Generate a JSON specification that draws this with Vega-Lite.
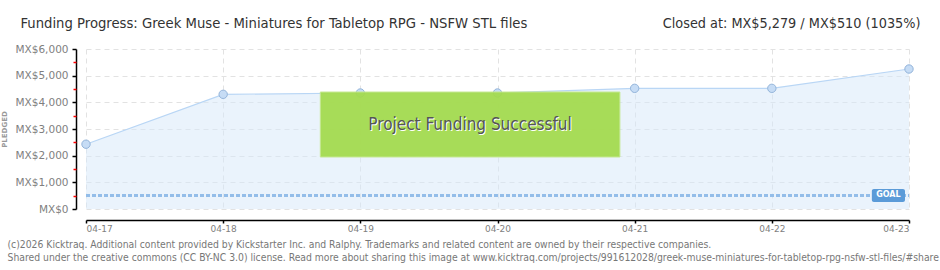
{
  "$schema": "https://vega.github.io/schema/vega-lite/v6.json",
  "width": 823,
  "height": 160,
  "autosize": {"type": "none"},
  "padding": {"left": 86, "top": 49, "right": 31, "bottom": 61},
  "background": "#ffffff",
  "datasets": {
    "pledges": [
      {"date": "2026-04-17T00:00:00Z", "pledged": 2430},
      {"date": "2026-04-18T00:00:00Z", "pledged": 4300},
      {"date": "2026-04-19T00:00:00Z", "pledged": 4350},
      {"date": "2026-04-20T00:00:00Z", "pledged": 4350},
      {"date": "2026-04-21T00:00:00Z", "pledged": 4525},
      {"date": "2026-04-22T00:00:00Z", "pledged": 4525},
      {"date": "2026-04-23T00:00:00Z", "pledged": 5250}
    ],
    "banner": [
      {"start": "2026-04-18T17:00:00Z", "end": "2026-04-20T21:25:00Z", "mid": "2026-04-19T19:12:00Z", "low": 1950, "high": 4387, "center": 3140, "label": "Project Funding Successful"}
    ],
    "goal": [
      {"start": "2026-04-22T17:30:00Z", "end": "2026-04-22T23:18:00Z", "mid": "2026-04-22T20:24:00Z", "goal": 510, "low": 262, "high": 750, "label": "GOAL"}
    ]
  },
  "layer": [
    {
      "data": {"name": "pledges"},
      "mark": {"type": "area", "color": "#d6e8fa", "opacity": 0.5, "line": {"color": "#b9d6f5", "strokeWidth": 1.2}},
      "encoding": {
        "x": {
          "field": "date", "type": "temporal",
          "scale": {"type": "utc", "domain": [{"year": 2026, "month": 4, "date": 17, "utc": true}, {"year": 2026, "month": 4, "date": 23, "utc": true}]},
          "axis": {
            "orient": "bottom", "offset": 11,
            "labelExpr": "utcFormat(datum.value, '%m-%d')",
            "values": [{"year": 2026, "month": 4, "date": 17, "utc": true}, {"year": 2026, "month": 4, "date": 18, "utc": true}, {"year": 2026, "month": 4, "date": 19, "utc": true}, {"year": 2026, "month": 4, "date": 20, "utc": true}, {"year": 2026, "month": 4, "date": 21, "utc": true}, {"year": 2026, "month": 4, "date": 22, "utc": true}, {"year": 2026, "month": 4, "date": 23, "utc": true}],
            "grid": true, "gridColor": "#e2e2e2", "gridDash": [5, 4], "gridWidth": 1,
            "domainColor": "#000000", "domainWidth": 1.5, "tickColor": "#000000", "tickSize": 3, "tickWidth": 1.5,
            "labelColor": "#7f7f7f", "labelFont": "DejaVu Sans", "labelFontSize": 9, "labelPadding": 1,
            "title": ["(c)2026 Kicktraq. Additional content provided by Kickstarter Inc. and Ralphy. Trademarks and related content are owned by their respective companies.", "Shared under the creative commons (CC BY-NC 3.0) license. Read more about sharing this image at www.kicktraq.com/projects/991612028/greek-muse-miniatures-for-tabletop-rpg-nsfw-stl-files/#share"],
            "titleX": -79, "titleY": 27, "titleAlign": "left", "titleBaseline": "alphabetic",
            "titleFont": "DejaVu Sans Condensed, DejaVu Sans", "titleFontSize": 10.3, "titleFontWeight": "normal", "titleColor": "#777777", "titleLineHeight": 13
          }
        },
        "y": {
          "field": "pledged", "type": "quantitative",
          "scale": {"domain": [0, 6000], "nice": false},
          "axis": {
            "orient": "left", "offset": 10, "values": [0, 1000, 2000, 3000, 4000, 5000, 6000],
            "labelExpr": "'MX$' + format(datum.value, ',')",
            "grid": true, "gridColor": "#e2e2e2", "gridDash": [5, 4], "gridWidth": 1,
            "domainColor": "#000000", "domainWidth": 1.5, "tickColor": "#000000", "tickSize": 4, "tickWidth": 1.5,
            "labelColor": "#7f7f7f", "labelFont": "DejaVu Sans", "labelFontSize": 10.5, "labelPadding": 4,
            "title": "PLEDGED", "titleX": -72, "titleY": 80, "titleAngle": -90, "titleAlign": "center", "titleBaseline": "middle",
            "titleFont": "DejaVu Sans", "titleFontSize": 7, "titleFontWeight": "bold", "titleColor": "#999999"
          }
        }
      }
    },
    {
      "data": {"name": "goal"},
      "mark": {"type": "rule", "color": "#93bde9", "strokeWidth": 3, "strokeDash": [4, 2]},
      "encoding": {
        "y": {
          "field": "goal", "type": "quantitative",
          "axis": {
            "orient": "left", "offset": 10, "values": [500, 1500, 2500, 3500, 4500, 5500],
            "labels": false, "grid": false, "domain": false, "tickColor": "#ff0000", "tickSize": 3, "tickWidth": 1.5, "title": null
          }
        },
        "x": {
          "datum": {"year": 2026, "month": 4, "date": 17, "utc": true}, "type": "temporal",
          "axis": {
            "orient": "top", "labels": false, "ticks": false, "domain": false, "grid": false,
            "title": "Funding Progress: Greek Muse - Miniatures for Tabletop RPG - NSFW STL files",
            "titleX": -66, "titleY": -22, "titleAlign": "left", "titleBaseline": "alphabetic",
            "titleFont": "DejaVu Sans Condensed, DejaVu Sans", "titleFontSize": 14.7, "titleFontWeight": "normal", "titleColor": "#333333"
          }
        },
        "x2": {"datum": {"year": 2026, "month": 4, "date": 23, "utc": true}}
      }
    },
    {
      "data": {"name": "pledges"},
      "mark": {"type": "point", "shape": "circle", "filled": true, "size": 70, "fill": "#c6dcf5", "stroke": "#93b4da", "strokeWidth": 1, "opacity": 1},
      "encoding": {
        "x": {
          "field": "date", "type": "temporal",
          "axis": {
            "orient": "top", "labels": false, "ticks": false, "domain": false, "grid": false,
            "title": "Closed at:  MX$5,279 /  MX$510 (1035%)",
            "titleX": 834, "titleY": -22, "titleAlign": "right", "titleBaseline": "alphabetic",
            "titleFont": "DejaVu Sans Condensed, DejaVu Sans", "titleFontSize": 14.3, "titleFontWeight": "normal", "titleColor": "#333333"
          }
        },
        "y": {"field": "pledged", "type": "quantitative", "axis": null}
      }
    },
    {
      "data": {"name": "banner"},
      "mark": {"type": "rect", "color": "#a3db4c", "opacity": 0.93, "stroke": "#c3e88a", "strokeWidth": 1},
      "encoding": {
        "x": {"field": "start", "type": "temporal", "axis": null},
        "x2": {"field": "end"},
        "y": {"field": "low", "type": "quantitative", "axis": null},
        "y2": {"field": "high"}
      }
    },
    {
      "data": {"name": "banner"},
      "mark": {"type": "text", "color": "#ffffff", "font": "DejaVu Sans Condensed, DejaVu Sans", "fontSize": 17, "dx": 1, "dy": 1, "align": "center", "baseline": "middle"},
      "encoding": {
        "x": {"field": "mid", "type": "temporal", "axis": null},
        "y": {"field": "center", "type": "quantitative", "axis": null},
        "text": {"field": "label"}
      }
    },
    {
      "data": {"name": "banner"},
      "mark": {"type": "text", "color": "#555555", "font": "DejaVu Sans Condensed, DejaVu Sans", "fontSize": 17, "align": "center", "baseline": "middle"},
      "encoding": {
        "x": {"field": "mid", "type": "temporal", "axis": null},
        "y": {"field": "center", "type": "quantitative", "axis": null},
        "text": {"field": "label"}
      }
    },
    {
      "data": {"name": "goal"},
      "mark": {"type": "rect", "color": "#5b9bd8", "cornerRadius": 2},
      "encoding": {
        "x": {"field": "start", "type": "temporal", "axis": null},
        "x2": {"field": "end"},
        "y": {"field": "low", "type": "quantitative", "axis": null},
        "y2": {"field": "high"}
      }
    },
    {
      "data": {"name": "goal"},
      "mark": {"type": "text", "color": "#ffffff", "font": "DejaVu Sans", "fontSize": 8, "fontWeight": "bold", "align": "center", "baseline": "middle"},
      "encoding": {
        "x": {"field": "mid", "type": "temporal", "axis": null},
        "y": {"field": "goal", "type": "quantitative", "axis": null},
        "text": {"field": "label"}
      }
    }
  ],
  "resolve": {"axis": {"x": "independent", "y": "independent"}},
  "config": {"view": {"stroke": null}}
}
